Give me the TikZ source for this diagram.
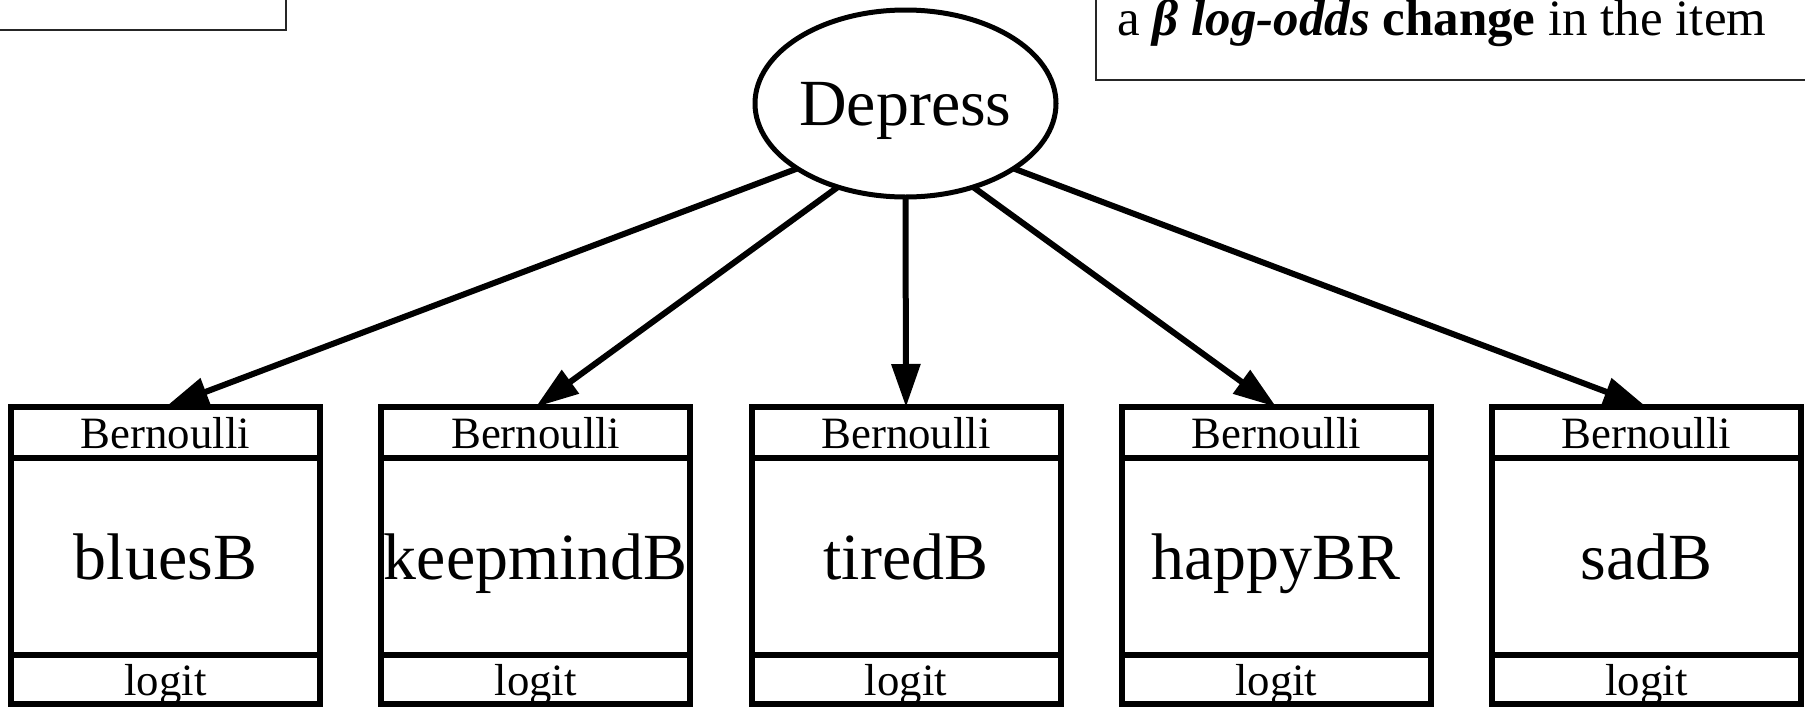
\documentclass[tikz,border=0pt]{standalone}
\usepackage{fontspec}
\setmainfont{Liberation Serif}
\usetikzlibrary{positioning, arrows.meta, shapes.geometric}

\newcommand{\varfont}{\fontsize{37.5}{45}\selectfont}
\newcommand{\distfont}{\fontsize{25.5}{30}\selectfont}
\newcommand{\notefont}{\fontsize{29}{35}\selectfont}

\begin{document}
\begin{tikzpicture}[
  part/.style={draw=black, line width=0.12cm, minimum width=6.18cm, inner sep=0pt, outer sep=0pt, text depth=0pt, align=center},
  latent/.style={draw=black, ellipse, line width=0.1cm, minimum width=6.02cm, minimum height=3.74cm, inner sep=0pt, outer sep=0pt, text depth=0pt},
  loading/.style={line width=0.12cm, -{Triangle[length=0.86cm, width=0.56cm]}},
  notebox/.style={draw=black!85, line width=0.035cm, inner sep=0pt, outer sep=0pt}
]

\clip (0,0) rectangle (36.1,-14.14);

\node [notebox, minimum width=7cm, minimum height=3cm, anchor=south east] (note_l) at (5.72,-0.6) {};
\node [notebox, minimum width=16cm, minimum height=3cm, anchor=south west] (note_r) at (21.92,-1.6) {};
\node [anchor=base west, inner sep=0pt] (note_txt) at (22.34,-0.71) {\notefont a {\bfseries\itshape β log-odds} {\bfseries change} in the item};

\node [latent] (dep) at (18.11,-2.07) {\varfont Depress};

\node [part, minimum height=3.94cm] (blues) at (3.31,-11.13) {\varfont bluesB};
\node [part, minimum height=1.02cm, above=0pt of blues] (blues_d) {\distfont Bernoulli};
\node [part, minimum height=0.98cm, below=0pt of blues] (blues_l) {\distfont logit};

\node [part, minimum height=3.94cm] (keep) at (10.715,-11.13) {\varfont keepmindB};
\node [part, minimum height=1.02cm, above=0pt of keep] (keep_d) {\distfont Bernoulli};
\node [part, minimum height=0.98cm, below=0pt of keep] (keep_l) {\distfont logit};

\node [part, minimum height=3.94cm] (tired) at (18.12,-11.13) {\varfont tiredB};
\node [part, minimum height=1.02cm, above=0pt of tired] (tired_d) {\distfont Bernoulli};
\node [part, minimum height=0.98cm, below=0pt of tired] (tired_l) {\distfont logit};

\node [part, minimum height=3.94cm] (happy) at (25.525,-11.13) {\varfont happyBR};
\node [part, minimum height=1.02cm, above=0pt of happy] (happy_d) {\distfont Bernoulli};
\node [part, minimum height=0.98cm, below=0pt of happy] (happy_l) {\distfont logit};

\node [part, minimum height=3.94cm] (sad) at (32.93,-11.13) {\varfont sadB};
\node [part, minimum height=1.02cm, above=0pt of sad] (sad_d) {\distfont Bernoulli};
\node [part, minimum height=0.98cm, below=0pt of sad] (sad_l) {\distfont logit};

\draw [loading] (dep.211) -- (blues_d.north);
\draw [loading] (dep.231) -- (keep_d.north);
\draw [loading] (dep.270) -- (tired_d.north);
\draw [loading] (dep.309) -- (happy_d.north);
\draw [loading] (dep.329) -- (sad_d.north);

\end{tikzpicture}
\end{document}
